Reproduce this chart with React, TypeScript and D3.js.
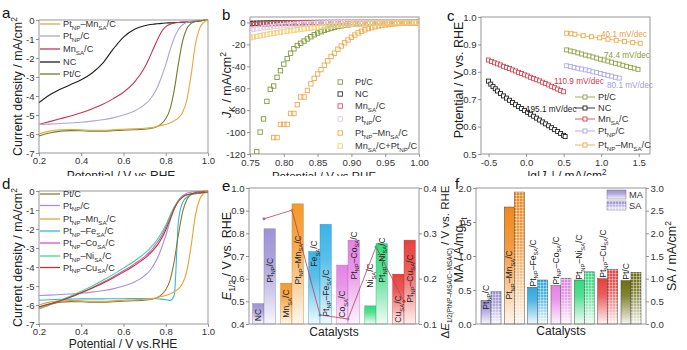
import React, { useRef, useEffect } from "react";
import * as d3 from "d3";

const FONT = "'Liberation Sans', Arial, Helvetica, sans-serif";

// ---------- a / d : LSV curves, potential (V vs RHE) -> current density (mA/cm2)
const lsvPot = [0.2, 0.25, 0.3, 0.35, 0.4, 0.45, 0.5, 0.55, 0.6, 0.65, 0.7, 0.72, 0.74, 0.76, 0.78, 0.8, 0.82, 0.84, 0.86, 0.88, 0.9, 0.92, 0.94, 0.96, 0.98, 1.0];
const jPtMn = [-6.0, -5.85, -5.78, -5.76, -5.78, -5.8, -5.8, -5.78, -5.75, -5.72, -5.7, -5.68, -5.65, -5.6, -5.55, -5.5, -5.42, -5.3, -5.15, -4.85, -4.2, -2.9, -1.3, -0.45, -0.12, 0];
const jPtC = [-6.1, -5.95, -5.85, -5.82, -5.83, -5.85, -5.85, -5.83, -5.8, -5.78, -5.75, -5.72, -5.68, -5.6, -5.45, -5.2, -4.7, -3.7, -2.3, -1.1, -0.45, -0.18, -0.08, -0.04, -0.02, 0];
const jPtNP = [-5.5, -5.48, -5.45, -5.42, -5.38, -5.32, -5.25, -5.15, -5.0, -4.8, -4.45, -4.25, -3.95, -3.55, -3.0, -2.35, -1.6, -0.95, -0.5, -0.25, -0.12, -0.06, -0.03, -0.02, -0.01, 0];
const jMnSA = [-5.5, -5.35, -5.2, -5.05, -4.88, -4.68, -4.45, -4.15, -3.8, -3.3, -2.5, -2.05, -1.55, -1.05, -0.62, -0.35, -0.22, -0.16, -0.13, -0.11, -0.1, -0.08, -0.06, -0.04, -0.02, 0];
const jNC = [-4.35, -3.95, -3.65, -3.4, -3.15, -2.8, -2.3, -1.55, -0.9, -0.5, -0.3, -0.25, -0.22, -0.2, -0.18, -0.16, -0.15, -0.14, -0.13, -0.12, -0.11, -0.1, -0.08, -0.05, -0.03, 0];
const jPtFe = [-5.75, -5.72, -5.7, -5.69, -5.68, -5.68, -5.68, -5.67, -5.67, -5.66, -5.66, -5.66, -5.66, -5.67, -5.69, -5.72, -5.76, -5.5, -1.6, -0.6, -0.32, -0.2, -0.15, -0.12, -0.1, -0.08];
const jPtCo = [-6.2, -6.0, -5.8, -5.58, -5.35, -5.1, -4.82, -4.52, -4.2, -3.85, -3.45, -3.25, -3.0, -2.7, -2.35, -1.9, -1.35, -0.85, -0.5, -0.3, -0.2, -0.15, -0.12, -0.1, -0.08, -0.05];
const jPtNi = [-6.2, -5.98, -5.76, -5.53, -5.28, -5.01, -4.71, -4.4, -4.06, -3.7, -3.28, -3.08, -2.84, -2.55, -2.2, -1.8, -1.3, -0.85, -0.5, -0.3, -0.2, -0.15, -0.12, -0.1, -0.08, -0.05];
const jPtCu = [-6.1, -5.95, -5.78, -5.58, -5.35, -5.12, -4.87, -4.58, -4.27, -3.93, -3.55, -3.35, -3.12, -2.85, -2.5, -2.05, -1.5, -0.95, -0.55, -0.32, -0.2, -0.15, -0.12, -0.1, -0.08, -0.05];
const lsvXTicks = [0.2, 0.4, 0.6, 0.8, 1.0];
const lsvYTicks = [-7, -6, -5, -4, -3, -2, -1, 0];

// ---------- b : kinetic current J_K (mA/cm2)
const kPot = [0.75, 0.755, 0.76, 0.765, 0.77, 0.775, 0.78, 0.785, 0.79, 0.795, 0.8, 0.805, 0.81, 0.815, 0.82, 0.825, 0.83, 0.835, 0.84, 0.845, 0.85, 0.855, 0.86, 0.865, 0.87, 0.875, 0.88, 0.885, 0.89, 0.895, 0.9, 0.905, 0.91, 0.915, 0.92, 0.925, 0.93, 0.935, 0.94, 0.945, 0.95, 0.955, 0.96, 0.965, 0.97, 0.975, 0.98, 0.985, 0.99, 0.995, 1.0];
const kPtC = [null, null, -118, -100, -88, -72, -61, -58, -50, -44, -38, -33, -28, -24, -21, -19, -17, -15, -13, -11.2, -9.7, -8.4, -7.2, -6.1, -5.2, -4.4, -3.7, -3.1, -2.6, -2.2, -1.8, -1.5, -1.25, -1.05, -0.9, -0.75, -0.62, -0.52, -0.44, -0.37, -0.31, -0.26, -0.22, -0.18, -0.15, -0.12, -0.1, -0.08, -0.06, -0.05, -0.04];
const kNC = [-0.9, -0.8, -0.7, -0.62, -0.55, -0.48, -0.42, -0.37, -0.32, -0.28, -0.24, -0.21, -0.18, -0.16, -0.14, -0.12, -0.1, -0.09, -0.08, -0.07, -0.06, -0.05, -0.05, -0.04, -0.04, -0.03, -0.03, -0.03, -0.02, -0.02, -0.02, -0.02, -0.01, -0.01, -0.01, -0.01, -0.01, -0.01, -0.01, -0.01, -0.01, -0.01, 0, 0, 0, 0, 0, 0, 0, 0, 0];
const kMn = [-2.2, -2.0, -1.8, -1.6, -1.45, -1.3, -1.15, -1.0, -0.9, -0.8, -0.7, -0.6, -0.5, -0.42, -0.35, -0.3, -0.25, -0.2, -0.16, -0.13, -0.1, -0.08, -0.07, -0.06, -0.05, -0.05, -0.04, -0.04, -0.03, -0.03, -0.03, -0.02, -0.02, -0.02, -0.02, -0.02, -0.01, -0.01, -0.01, -0.01, -0.01, -0.01, -0.01, -0.01, -0.01, 0, 0, 0, 0, 0, 0];
const kPtNP = [-6.5, -6.1, -5.7, -5.3, -4.9, -4.5, -4.1, -3.7, -3.4, -3.1, -2.8, -2.5, -2.2, -1.9, -1.7, -1.5, -1.3, -1.1, -0.95, -0.8, -0.7, -0.6, -0.5, -0.42, -0.35, -0.3, -0.26, -0.22, -0.19, -0.16, -0.14, -0.12, -0.1, -0.09, -0.08, -0.07, -0.06, -0.05, -0.05, -0.04, -0.04, -0.03, -0.03, -0.03, -0.02, -0.02, -0.02, -0.01, -0.01, -0.01, -0.01];
const kPtMn = [null, null, null, null, null, null, null, -105, -105, -93, -93, -93, -83, -83, -75, -68, -68, -62, -56, -51, -47, -43, -39, -35, -31, -28, -24.5, -21.5, -18.5, -16, -13.5, -11.5, -9.5, -8, -6.7, -5.6, -4.7, -3.9, -3.2, -2.7, -2.2, -1.8, -1.5, -1.2, -1.0, -0.8, -0.65, -0.5, -0.4, -0.32, -0.25];
const kMix = [-14, -13.3, -12.7, -12.1, -11.5, -10.9, -10.3, -9.8, -9.3, -8.8, -8.3, -7.8, -7.4, -7.0, -6.6, -6.2, -5.8, -5.4, -5.0, -4.6, -4.3, -4.0, -3.7, -3.4, -3.1, -2.8, -2.5, -2.3, -2.1, -1.9, -1.7, -1.5, -1.35, -1.2, -1.05, -0.95, -0.85, -0.75, -0.65, -0.57, -0.5, -0.44, -0.38, -0.33, -0.28, -0.24, -0.2, -0.17, -0.14, -0.12, -0.1];
const kXTicks = [0.75, 0.8, 0.85, 0.9, 0.95, 1.0];
const kYTicks = [-120, -100, -80, -60, -40, -20, 0];

// ---------- c : Tafel plots, lg|J_K| -> potential
const tPtMnX = [0.54, 0.6, 0.65, 0.76, 0.87, 0.98, 1.09, 1.2, 1.31, 1.42, 1.52];
const tPtMnE = [0.941, 0.939, 0.937, 0.932, 0.928, 0.924, 0.919, 0.915, 0.911, 0.907, 0.904];
const tPtCX = [0.54, 0.59, 0.64, 0.69, 0.74, 0.79, 0.84, 0.89, 0.94, 0.99, 1.04, 1.09, 1.14, 1.19, 1.24, 1.29, 1.34, 1.39, 1.44, 1.49];
const tPtCE = [0.88, 0.876, 0.873, 0.869, 0.865, 0.861, 0.858, 0.854, 0.85, 0.846, 0.843, 0.839, 0.835, 0.831, 0.828, 0.824, 0.82, 0.816, 0.813, 0.809];
const tPtNPX = [0.54, 0.59, 0.64, 0.69, 0.74, 0.79, 0.84, 0.89, 0.94, 0.99, 1.04, 1.09, 1.14, 1.19, 1.24];
const tPtNPE = [0.822, 0.819, 0.816, 0.813, 0.81, 0.807, 0.804, 0.8, 0.797, 0.794, 0.79, 0.787, 0.784, 0.78, 0.777];
const tMnX = [-0.5, -0.46, -0.42, -0.38, -0.34, -0.3, -0.26, -0.22, -0.18, -0.14, -0.1, -0.06, -0.02, 0.02, 0.06, 0.1, 0.14, 0.18, 0.22, 0.26, 0.3, 0.34, 0.38, 0.42, 0.46, 0.5];
const tMnE = [0.843, 0.838, 0.833, 0.829, 0.825, 0.82, 0.816, 0.812, 0.807, 0.803, 0.798, 0.794, 0.789, 0.785, 0.78, 0.776, 0.771, 0.767, 0.762, 0.757, 0.752, 0.747, 0.742, 0.737, 0.732, 0.727];
const tNCX = [-0.5, -0.47, -0.44, -0.41, -0.38, -0.34, -0.3, -0.26, -0.22, -0.18, -0.14, -0.1, -0.06, -0.02, 0.02, 0.06, 0.1, 0.14, 0.18, 0.22, 0.26, 0.3, 0.34, 0.38, 0.42, 0.46, 0.5, 0.52];
const tNCE = [0.766, 0.755, 0.746, 0.738, 0.73, 0.721, 0.712, 0.704, 0.696, 0.688, 0.68, 0.673, 0.666, 0.659, 0.652, 0.645, 0.638, 0.631, 0.624, 0.617, 0.61, 0.603, 0.596, 0.589, 0.582, 0.575, 0.568, 0.564];
const tXTicks = [-0.5, 0.0, 0.5, 1.0, 1.5];
const tYTicks = [0.5, 0.6, 0.7, 0.8, 0.9, 1.0];

// ---------- e : half-wave potentials
const eGroups = ["NC", "Mn", "Fe", "Co", "Ni", "Cu"];
const eCats = ["NC", "Pt_{NP}/C", "Mn_{SA}/C", "Pt_{NP}–Mn_{SA}/C", "Fe_{SA}/C", "Pt_{NP}–Fe_{SA}/C", "Co_{SA}/C", "Pt_{NP}–Co_{SA}/C", "Ni_{SA}/C", "Pt_{NP}–Ni_{SA}/C", "Cu_{SA}/C", "Pt_{NP}–Cu_{SA}/C"];
const eHalf = [0.49, 0.82, 0.58, 0.93, 0.72, 0.84, 0.66, 0.77, 0.48, 0.755, 0.62, 0.77];
const eDelta = [0.332, 0.351, 0.12, 0.111, 0.27, 0.15];
const eLeftTicks = [0.4, 0.5, 0.6, 0.7, 0.8, 0.9, 1.0];
const eRightTicks = [0.1, 0.2, 0.3, 0.4];

// ---------- f : mass / specific activity
const fCats = ["Pt_{NP}/C", "Pt_{NP}–Mn_{SA}/C", "Pt_{NP}–Fe_{SA}/C", "Pt_{NP}–Co_{SA}/C", "Pt_{NP}–Ni_{SA}/C", "Pt_{NP}–Cu_{SA}/C", "Pt/C"];
const fMA = [0.343, 1.72, 0.538, 0.563, 0.647, 0.666, 0.637];
const fSA = [0.72, 2.91, 0.97, 1.01, 1.15, 1.2, 1.14];
const fLeftTicks = [0.0, 0.5, 1.0, 1.5, 2.0];
const fRightTicks = [0.0, 0.5, 1.0, 1.5, 2.0, 2.5, 3.0];

// label anchor heights (axis units) and colours - layout only
const eLabelAt = [0.412, 0.582, 0.428, 0.574, 0.653, 0.432, 0.428, 0.596, 0.56, 0.582, 0.406, 0.494];
const fLabelAt = [0.21, 0.36, 0.55, 0.58, 0.65, 0.68, 0.65];
const eColors = ["#9E93D6", "#F39A2E", "#3CB4E6", "#E482E6", "#35D97E", "#E8403E"];
const fColors = ["#9E93D6", "#F0891E", "#2EA9E0", "#E482E6", "#35D97E", "#E8403E", "#6E6E12"];

const f1 = (d: any) => d3.format(".1f")(d).replace("\u2212", "-");
const f2 = (d: any) => d3.format(".2f")(d).replace("\u2212", "-");
const fd = (d: any) => d3.format("d")(d).replace("\u2212", "-");

// text with _{sub} ^{sup} ~{italic}
function rich(t: any, str: string, size: number, subScale = 0.68) {
  const parts = str.split(/([_^~]\{[^}]*\})/).filter((s) => s.length > 0);
  let shift = 0;
  parts.forEach((p) => {
    let txt = p;
    let fs = size;
    let target = 0;
    let italic = false;
    if (p[1] === "{" && "_^~".includes(p[0])) {
      txt = p.slice(2, -1);
      if (p[0] === "_") { fs = size * subScale; target = size * 0.28; }
      if (p[0] === "^") { fs = size * 0.68; target = -size * 0.42; }
      if (p[0] === "~") italic = true;
    }
    const ts = t.append("tspan").attr("font-size", fs).text(txt);
    if (target - shift !== 0) ts.attr("dy", target - shift);
    if (italic) ts.attr("font-style", "italic");
    shift = target;
  });
  return t;
}

const App: React.FC = () => {
  const svgRef = useRef<SVGSVGElement | null>(null);

  useEffect(() => {
    document.body.style.margin = "0";
    const svg = d3.select(svgRef.current);
    svg.selectAll("*").remove();
    svg.attr("font-family", FONT);
    const defs = svg.append("defs");

    const text = (x: number, y: number, str: string, size: number, opt: any = {}) => {
      const t = svg
        .append("text")
        .attr("transform", `translate(${x},${y})` + (opt.rot ? ` rotate(${opt.rot})` : ""))
        .attr("font-size", size)
        .attr("fill", opt.color || "#222")
        .attr("text-anchor", opt.anchor || "start");
      return rich(t, str, size, opt.sub || 0.68);
    };
    // rotated (-90) axis title centred on (cx, cy)
    const vtitle = (cx: number, cy: number, str: string, size: number, sub = 0.68) =>
      text(cx + size * 0.35, cy, str, size, { rot: -90, anchor: "middle", sub });

    const frame = (x0: number, y0: number, x1: number, y1: number) =>
      svg.append("rect").attr("x", x0).attr("y", y0).attr("width", x1 - x0).attr("height", y1 - y0)
        .attr("fill", "none").attr("stroke", "#8c8c8c").attr("stroke-width", 0.9);

    const axis = (gen: any, tx: number, ty: number) => {
      const g = svg.append("g").attr("transform", `translate(${tx},${ty})`).call(gen);
      g.select(".domain").remove();
      g.selectAll(".tick line").attr("stroke", "#7a7a7a").attr("stroke-width", 0.8);
      g.selectAll(".tick text").attr("fill", "#333").attr("font-size", 9.6).attr("font-family", FONT);
      return g;
    };

    // ---- top row x titles (cut off by the lower row)
    text(121, 180, "Potential / V vs RHE", 12, { anchor: "middle" });
    text(324, 180, "Potential / V vs RHE", 11.5, { anchor: "middle" });
    text(567, 180, "lg|~{J}_{K}| / mA/cm^{2}", 12, { anchor: "middle" });
    svg.append("rect").attr("x", 0).attr("y", 176).attr("width", 687).attr("height", 8).attr("fill", "#fff");

    // ================= a & d : LSV
    const xL = d3.scaleLinear().domain([0.2, 1.0]).range([39, 208]);
    const lsvPanel = (top: number, bottom: number, series: any[], legendY: number[]) => {
      const y = d3.scaleLinear().domain([-7, 0]).range([bottom, top]);
      frame(39, top, 208, bottom);
      axis(d3.axisBottom(xL).tickValues(lsvXTicks).tickSize(3).tickPadding(1).tickFormat(f1), 0, bottom);
      axis(d3.axisLeft(y).tickValues(lsvYTicks).tickSize(3).tickPadding(1.5).tickFormat(fd), 39, 0);
      const line = d3.line<number>().x((_, i) => xL(lsvPot[i])).y((d) => y(d)).curve(d3.curveMonotoneX);
      series.slice().sort((a, b) => a.z - b.z).forEach((s) => {
        svg.append("path").attr("d", line(s.v)).attr("fill", "none").attr("stroke", s.c).attr("stroke-width", 1.1);
      });
      series.forEach((s, i) => {
        svg.append("line").attr("x1", 40).attr("x2", 60).attr("y1", legendY[i]).attr("y2", legendY[i])
          .attr("stroke", s.c).attr("stroke-width", 1.3);
        text(63, legendY[i] + 3.3, s.name, 9.2, { color: "#333" });
      });
    };

    lsvPanel(20, 153, [
      { name: "Pt_{NP}–Mn_{SA}/C", v: jPtMn, c: "#E8A93A", z: 5 },
      { name: "Pt_{NP}/C", v: jPtNP, c: "#A9A6DA", z: 3 },
      { name: "Mn_{SA}/C", v: jMnSA, c: "#C8344E", z: 2 },
      { name: "NC", v: jNC, c: "#1E1E1E", z: 1 },
      { name: "Pt/C", v: jPtC, c: "#6E7F2A", z: 4 },
    ], [24, 36, 49, 62, 74]);

    // ================= b : J_K
    const xB = d3.scaleLinear().domain([0.75, 1.0]).range([250, 419]);
    const yB = d3.scaleLinear().domain([-120, 5]).range([154, 17]);
    frame(250, 17, 419, 154);
    axis(d3.axisBottom(xB).tickValues(kXTicks).tickSize(3).tickPadding(2).tickFormat(f2), 0, 154);
    axis(d3.axisLeft(yB).tickValues(kYTicks).tickSize(3).tickPadding(1.5).tickFormat(fd), 250, 0);
    defs.append("clipPath").attr("id", "clipB").append("rect").attr("x", 250).attr("y", 17).attr("width", 169).attr("height", 137);
    const kSeries = [
      { name: "Pt/C", v: kPtC, c: "#7E9A3E" },
      { name: "NC", v: kNC, c: "#333333" },
      { name: "Mn_{SA}/C", v: kMn, c: "#D45468" },
      { name: "Pt_{NP}/C", v: kPtNP, c: "#E3CFE3" },
      { name: "Pt_{NP}–Mn_{SA}/C", v: kPtMn, c: "#F2A94F" },
      { name: "Mn_{SA}/C+Pt_{NP}/C", v: kMix, c: "#F0D07A" },
    ];
    const gB = svg.append("g").attr("clip-path", "url(#clipB)");
    kSeries.forEach((s) => {
      gB.append("g").selectAll("rect")
        .data(s.v.map((j: any, i: number) => ({ v: kPot[i], j })).filter((d: any) => d.j !== null))
        .join("rect")
        .attr("x", (d: any) => xB(d.v) - 2.2).attr("y", (d: any) => yB(d.j) - 2.2)
        .attr("width", 4.4).attr("height", 4.4)
        .attr("fill", "none").attr("stroke", s.c).attr("stroke-width", 0.9);
    });
    [82, 94, 106, 119, 133, 146].forEach((ly, i) => {
      svg.append("rect").attr("x", 338).attr("y", ly - 2.2).attr("width", 4.4).attr("height", 4.4)
        .attr("fill", "none").attr("stroke", kSeries[i].c).attr("stroke-width", 0.9);
      text(355, ly + 3.3, kSeries[i].name, 9.2, { color: "#333" });
    });

    // ================= c : Tafel
    const xC = d3.scaleLinear().domain([-0.6, 1.65]).range([481, 650]);
    const yC = d3.scaleLinear().domain([0.5, 1.0]).range([154, 17]);
    frame(481, 17, 650, 154);
    axis(d3.axisBottom(xC).tickValues(tXTicks).tickSize(3).tickPadding(2).tickFormat(f1), 0, 154);
    axis(d3.axisLeft(yC).tickValues(tYTicks).tickSize(3).tickPadding(1.5).tickFormat(f1), 481, 0);
    const tSeries = [
      { name: "Pt/C", x: tPtCX, e: tPtCE, c: "#8FA040" },
      { name: "NC", x: tNCX, e: tNCE, c: "#222222" },
      { name: "Mn_{SA}/C", x: tMnX, e: tMnE, c: "#D94352" },
      { name: "Pt_{NP}/C", x: tPtNPX, e: tPtNPE, c: "#A8A8E6" },
      { name: "Pt_{NP}–Mn_{SA}/C", x: tPtMnX, e: tPtMnE, c: "#F0A848" },
    ];
    tSeries.forEach((s) => {
      const pts = s.x.map((x: number, i: number) => [x, s.e[i]]);
      svg.append("path").attr("d", d3.line().x((d: any) => xC(d[0])).y((d: any) => yC(d[1]))(pts as any))
        .attr("fill", "none").attr("stroke", s.c).attr("stroke-width", 0.9);
      svg.append("g").selectAll("rect").data(pts).join("rect")
        .attr("x", (d: any) => xC(d[0]) - 2).attr("y", (d: any) => yC(d[1]) - 2)
        .attr("width", 4).attr("height", 4).attr("fill", "#fff").attr("stroke", s.c).attr("stroke-width", 0.9);
    });
    [97, 108, 119, 131, 145].forEach((ly, i) => {
      svg.append("line").attr("x1", 575).attr("x2", 595).attr("y1", ly).attr("y2", ly).attr("stroke", tSeries[i].c).attr("stroke-width", 0.9);
      svg.append("rect").attr("x", 583).attr("y", ly - 2).attr("width", 4).attr("height", 4)
        .attr("fill", "#fff").attr("stroke", tSeries[i].c).attr("stroke-width", 0.9);
      text(598, ly + 3.3, tSeries[i].name, 9.2, { color: "#333" });
    });
    text(601, 37, "40.1 mV/dec", 8.2, { color: "#E8A048" });
    text(604, 58, "74.4 mV/dec", 8.2, { color: "#8A9A3A" });
    text(607, 88, "80.1 mV/dec", 8.2, { color: "#A0A0E0" });
    text(554, 84, "110.9 mV/dec", 8.2, { color: "#D33A4A" });
    text(526, 111.5, "195.1 mV/dec", 8.2, { color: "#222" });

    // ================= d : LSV of series
    lsvPanel(191, 324, [
      { name: "Pt/C", v: jPtC, c: "#8C7A2E", z: 5 },
      { name: "Pt_{NP}/C", v: jPtNP, c: "#A88FD8", z: 1 },
      { name: "Pt_{NP}–Mn_{SA}/C", v: jPtMn, c: "#F0A030", z: 6 },
      { name: "Pt_{NP}–Fe_{SA}/C", v: jPtFe, c: "#2FB8D8", z: 2 },
      { name: "Pt_{NP}–Co_{SA}/C", v: jPtCo, c: "#E04AE0", z: 3 },
      { name: "Pt_{NP}–Ni_{SA}/C", v: jPtNi, c: "#3ED98C", z: 4 },
      { name: "Pt_{NP}–Cu_{SA}/C", v: jPtCu, c: "#B83A2A", z: 7 },
    ], [194, 205.5, 219, 231, 243, 256, 267.5]);

    // gradients + grid pattern for the bars
    const grad = (id: string, c: string) => {
      const lg = defs.append("linearGradient").attr("id", id).attr("x1", 0).attr("y1", 0).attr("x2", 0).attr("y2", 1);
      lg.append("stop").attr("offset", "0%").attr("stop-color", c);
      lg.append("stop").attr("offset", "35%").attr("stop-color", d3.interpolateRgb(c, "#fff")(0.15));
      lg.append("stop").attr("offset", "100%").attr("stop-color", d3.interpolateRgb(c, "#fff")(0.93));
    };
    eColors.forEach((c, i) => grad(`ge${i}`, c));
    fColors.forEach((c, i) => grad(`gf${i}`, c));
    const pat = defs.append("pattern").attr("id", "grid").attr("width", 3).attr("height", 3).attr("patternUnits", "userSpaceOnUse");
    pat.append("path").attr("d", "M0 0.5H3M0.5 0V3").attr("stroke", "#fff").attr("stroke-opacity", 0.55).attr("stroke-width", 0.7);

    // ================= e : E1/2 bars
    const xE = d3.scaleBand().domain(eGroups).range([249, 419]).paddingInner(0.19).paddingOuter(0.13);
    const yE = d3.scaleLinear().domain([0.4, 1.0]).range([324, 188]);
    const yE2 = d3.scaleLinear().domain([0.1, 0.4]).range([324, 188]);
    const bwE = xE.bandwidth() / 2;
    eHalf.forEach((v, i) => {
      const gi = Math.floor(i / 2);
      const x = (xE(eGroups[gi]) as number) + (i % 2) * bwE;
      svg.append("rect").attr("x", x).attr("y", yE(v)).attr("width", bwE).attr("height", yE(0.4) - yE(v))
        .attr("fill", `url(#ge${gi})`).attr("stroke", d3.color(eColors[gi])!.darker(0.6).formatHex()).attr("stroke-width", 0.4);
    });
    eCats.forEach((c, i) => {
      const gi = Math.floor(i / 2);
      const cx = (xE(eGroups[gi]) as number) + (i % 2) * bwE + bwE / 2;
      text(cx + 3, yE(eLabelAt[i]), c, 8.6, { rot: -90 });
    });
    const eLine = d3.line<number>().x((_, i) => (xE(eGroups[i]) as number) + bwE).y((d) => yE2(d));
    svg.append("path").attr("d", eLine(eDelta)).attr("fill", "none").attr("stroke", "#B8405A").attr("stroke-width", 0.8);
    eDelta.forEach((d, i) => {
      svg.append("circle").attr("cx", (xE(eGroups[i]) as number) + bwE).attr("cy", yE2(d)).attr("r", 1.5)
        .attr("fill", d3.color(eColors[i])!.darker(0.5).formatHex());
    });
    frame(249, 188, 419, 324);
    axis(d3.axisLeft(yE).tickValues(eLeftTicks).tickSize(3).tickPadding(1.5).tickFormat(f1), 249, 0);
    axis(d3.axisRight(yE2).tickValues(eRightTicks).tickSize(3).tickPadding(1.5).tickFormat(f1), 419, 0);

    // ================= f : MA / SA bars
    const xF = d3.scaleBand().domain(fCats).range([476, 646]).paddingInner(0.143).paddingOuter(0.215);
    const yF = d3.scaleLinear().domain([0, 2]).range([324, 188]);
    const yF2 = d3.scaleLinear().domain([0, 3]).range([324, 188]);
    const bwF = xF.bandwidth() / 2;
    fCats.forEach((c, i) => {
      const x0 = xF(c) as number;
      svg.append("rect").attr("x", x0).attr("y", yF(fMA[i])).attr("width", bwF).attr("height", yF(0) - yF(fMA[i]))
        .attr("fill", `url(#gf${i})`).attr("stroke", "#444").attr("stroke-width", 0.5);
      svg.append("rect").attr("x", x0 + bwF).attr("y", yF2(fSA[i])).attr("width", bwF).attr("height", yF2(0) - yF2(fSA[i]))
        .attr("fill", `url(#gf${i})`).attr("stroke", "#444").attr("stroke-width", 0.5);
      svg.append("rect").attr("x", x0 + bwF).attr("y", yF2(fSA[i])).attr("width", bwF).attr("height", yF2(0) - yF2(fSA[i]))
        .attr("fill", "url(#grid)");
      text(x0 + bwF / 2 + 3, yF(fLabelAt[i]), c, 8.6, { rot: -90 });
    });
    frame(476, 188, 646, 324);
    axis(d3.axisLeft(yF).tickValues(fLeftTicks).tickSize(3).tickPadding(1.5).tickFormat(f1), 476, 0);
    axis(d3.axisRight(yF2).tickValues(fRightTicks).tickSize(3).tickPadding(1.5).tickFormat(f1), 646, 0);
    // legend
    svg.append("rect").attr("x", 607).attr("y", 190).attr("width", 19).attr("height", 9).attr("fill", "url(#gf0)").attr("stroke", "#777").attr("stroke-width", 0.5);
    svg.append("rect").attr("x", 607).attr("y", 201).attr("width", 19).attr("height", 9).attr("fill", "url(#gf0)").attr("stroke", "#777").attr("stroke-width", 0.5);
    svg.append("rect").attr("x", 607).attr("y", 201).attr("width", 19).attr("height", 9).attr("fill", "url(#grid)");
    text(629, 198, "MA", 9.2, { color: "#333" });
    text(629, 209, "SA", 9.2, { color: "#333" });

    // ---- axis titles
    vtitle(17.5, 86.5, "Current density / mA/cm^{2}", 12.5);
    vtitle(227, 85, "~{J}_{K} / mA/cm^{2}", 12.5);
    vtitle(459, 80, "Potential / V vs. RHE", 12.5);
    vtitle(17.5, 257.5, "Current density / mA/cm^{2}", 12.5);
    text(123, 348, "Potential / V vs.RHE", 12, { anchor: "middle" });
    vtitle(227, 256, "~{E}_{1/2} / V vs. RHE", 12.5);
    vtitle(445, 262, "Δ~{E}_{1/2(PtNP–MSA/C−MSA/C)} / V vs. RHE", 11.5, 0.55);
    text(334, 336, "Catalysts", 12, { anchor: "middle" });
    vtitle(459, 250, "MA / A/mg_{Pt}", 12.5);
    vtitle(672, 256, "SA / mA/cm^{2}", 12.5);
    text(561, 335, "Catalysts", 12, { anchor: "middle" });

    // ---- panel letters
    text(2, 18, "a", 15, { color: "#111" });
    text(222, 20, "b", 15, { color: "#111" });
    text(447, 21, "c", 15, { color: "#111" });
    text(2, 189, "d", 15, { color: "#111" });
    text(222, 191, "e", 15, { color: "#111" });
    text(455, 189, "f", 15, { color: "#111" });
  }, []);

  return <svg ref={svgRef} width={687} height={350} style={{ display: "block", background: "#fff" }} />;
};

export default App;
